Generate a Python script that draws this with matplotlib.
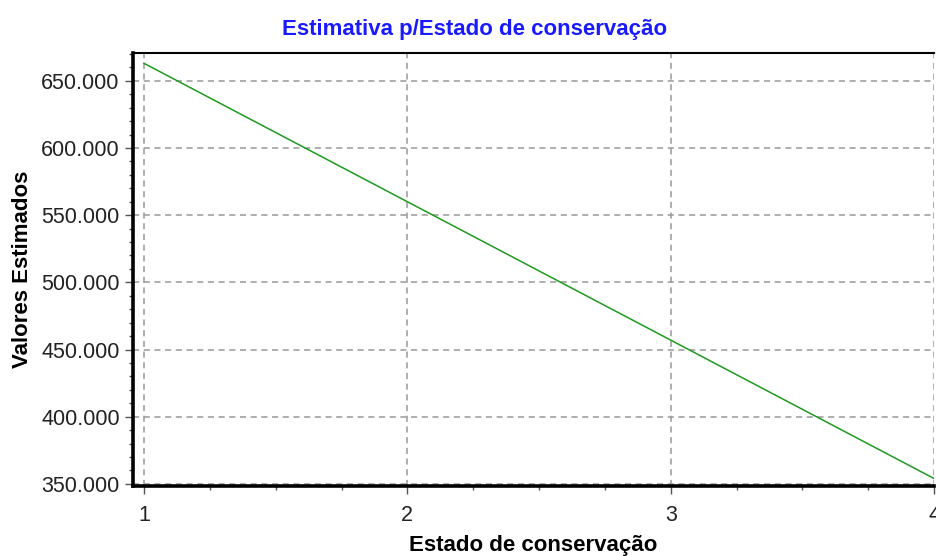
import matplotlib
matplotlib.use("Agg")
import matplotlib.pyplot as plt
from matplotlib.ticker import FuncFormatter, MultipleLocator

plt.rcParams['font.family'] = ['Liberation Sans', 'DejaVu Sans']

# data
estado = [1, 2, 3, 4]
valores = [663000, 560000, 457000, 354000]
x_ticks = [1, 2, 3, 4]
y_ticks = [350000, 400000, 450000, 500000, 550000, 600000, 650000]

fig = plt.figure(figsize=(9.36, 5.56), dpi=100)
ax = fig.add_axes([0.142, 0.126, 0.856, 0.779])

ax.plot(estado, valores, color='#1f9a1f', linewidth=1.1, zorder=3)

ax.set_xlim(0.958, 4.0)
ax.set_ylim(348500, 670800)
ax.set_xticks(x_ticks)
ax.set_yticks(y_ticks)
ax.xaxis.set_minor_locator(MultipleLocator(0.25))
ax.yaxis.set_minor_locator(MultipleLocator(10000))
ax.yaxis.set_major_formatter(FuncFormatter(lambda v, p: f"{v:,.0f}".replace(",", ".")))

ax.grid(True, which='major', color='#999999', linestyle=(0, (4, 3)), linewidth=1.1)
ax.tick_params(which='major', direction='out', length=6, width=1, color='#555555',
               labelsize=15.5, labelcolor='#222222')
ax.tick_params(axis='x', which='major', pad=8)
ax.tick_params(which='minor', direction='out', length=3, width=1, color='#555555')

for s in ['left', 'bottom']:
    ax.spines[s].set_linewidth(2.6)
    ax.spines[s].set_color('black')
ax.spines['top'].set_linewidth(1.5)
ax.spines['right'].set_visible(False)

fig.suptitle('Estimativa p/Estado de conservação', color='#1a1aff', fontsize=16,
             fontweight='bold', x=0.507, y=0.965, va='top')
ax.set_xlabel('Estado de conservação', fontsize=16, fontweight='bold', labelpad=6)
ax.set_ylabel('Valores Estimados', fontsize=16, fontweight='bold', labelpad=6)

fig.savefig('out.png', dpi=100)
